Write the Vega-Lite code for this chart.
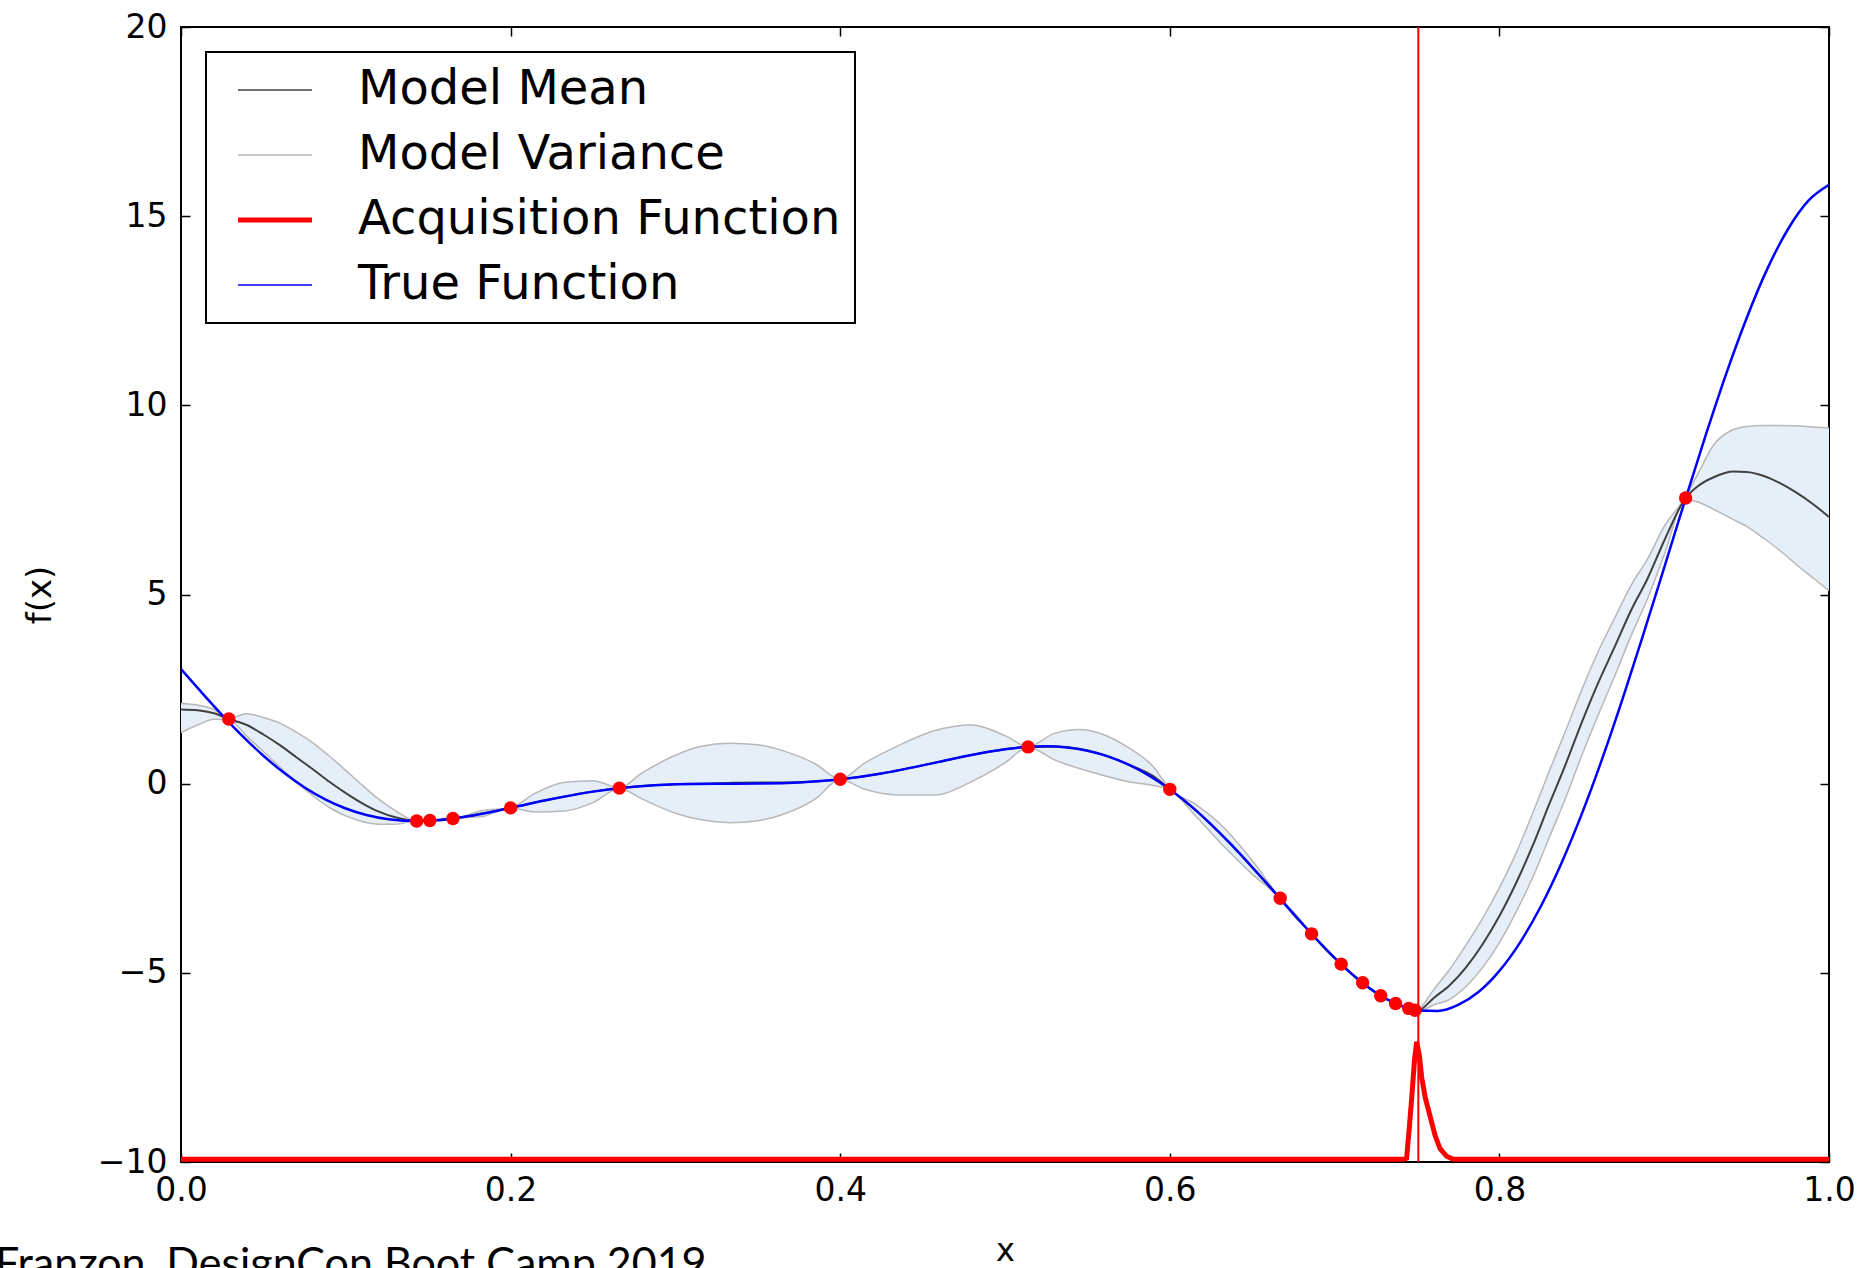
{
  "$schema": "https://vega.github.io/schema/vega-lite/v6.json",
  "width": 1648,
  "height": 1135,
  "autosize": {"type": "none"},
  "padding": {"left": 181, "top": 27, "right": 39, "bottom": 106},
  "background": "white",
  "config": {"view": {"stroke": "black", "strokeWidth": 2}, "font": "DejaVu Sans"},
  "title": {
    "text": "Franzon, DesignCon Boot Camp 2019",
    "orient": "bottom",
    "anchor": "start",
    "frame": "group",
    "font": "Lato",
    "fontSize": 43,
    "fontWeight": "normal",
    "color": "black",
    "baseline": "top",
    "offset": 0,
    "dx": -186,
    "dy": -22
  },
  "datasets": {
    "gp": [
      {"x": 0, "mean": 1.96, "lo": 1.35, "hi": 2.12},
      {"x": 0.01, "mean": 1.94, "lo": 1.55, "hi": 2.08},
      {"x": 0.02, "mean": 1.86, "lo": 1.7, "hi": 1.96},
      {"x": 0.029, "mean": 1.71, "lo": 1.69, "hi": 1.73},
      {"x": 0.04, "mean": 1.55, "lo": 1.25, "hi": 1.85},
      {"x": 0.05, "mean": 1.3, "lo": 0.85, "hi": 1.75},
      {"x": 0.06, "mean": 1.02, "lo": 0.44, "hi": 1.6},
      {"x": 0.07, "mean": 0.7, "lo": 0.04, "hi": 1.36},
      {"x": 0.08, "mean": 0.38, "lo": -0.32, "hi": 1.08},
      {"x": 0.09, "mean": 0.05, "lo": -0.63, "hi": 0.73},
      {"x": 0.1, "mean": -0.25, "lo": -0.85, "hi": 0.35},
      {"x": 0.11, "mean": -0.52, "lo": -1.0, "hi": -0.04},
      {"x": 0.12, "mean": -0.74, "lo": -1.07, "hi": -0.41},
      {"x": 0.13, "mean": -0.89, "lo": -1.07, "hi": -0.71},
      {"x": 0.143, "mean": -0.986, "lo": -0.99, "hi": -0.98},
      {"x": 0.148, "mean": -0.982, "lo": -0.995, "hi": -0.97},
      {"x": 0.153, "mean": -0.971, "lo": -0.975, "hi": -0.967},
      {"x": 0.159, "mean": -0.949, "lo": -0.98, "hi": -0.92},
      {"x": 0.165, "mean": -0.919, "lo": -0.925, "hi": -0.913},
      {"x": 0.183, "mean": -0.791, "lo": -0.87, "hi": -0.71},
      {"x": 0.2, "mean": -0.64, "lo": -0.645, "hi": -0.635},
      {"x": 0.215, "mean": -0.498, "lo": -0.75, "hi": -0.25},
      {"x": 0.233, "mean": -0.338, "lo": -0.72, "hi": 0.04},
      {"x": 0.25, "mean": -0.21, "lo": -0.5, "hi": 0.08},
      {"x": 0.266, "mean": -0.118, "lo": -0.125, "hi": -0.11},
      {"x": 0.28, "mean": -0.061, "lo": -0.41, "hi": 0.29},
      {"x": 0.3, "mean": -0.016, "lo": -0.78, "hi": 0.75},
      {"x": 0.315, "mean": 0.0, "lo": -0.95, "hi": 0.98},
      {"x": 0.333, "mean": 0.02, "lo": -1.03, "hi": 1.07},
      {"x": 0.35, "mean": 0.03, "lo": -0.98, "hi": 1.03},
      {"x": 0.366, "mean": 0.03, "lo": -0.8, "hi": 0.86},
      {"x": 0.385, "mean": 0.06, "lo": -0.4, "hi": 0.52},
      {"x": 0.4, "mean": 0.115, "lo": 0.11, "hi": 0.12},
      {"x": 0.415, "mean": 0.199, "lo": -0.15, "hi": 0.55},
      {"x": 0.435, "mean": 0.349, "lo": -0.3, "hi": 1.0},
      {"x": 0.457, "mean": 0.549, "lo": -0.3, "hi": 1.4},
      {"x": 0.48, "mean": 0.761, "lo": 0.06, "hi": 1.55},
      {"x": 0.5, "mean": 0.909, "lo": 0.55, "hi": 1.27},
      {"x": 0.514, "mean": 0.972, "lo": 0.965, "hi": 0.98},
      {"x": 0.53, "mean": 0.981, "lo": 0.63, "hi": 1.33},
      {"x": 0.545, "mean": 0.92, "lo": 0.4, "hi": 1.43},
      {"x": 0.557, "mean": 0.796, "lo": 0.25, "hi": 1.34},
      {"x": 0.575, "mean": 0.503, "lo": 0.05, "hi": 0.95},
      {"x": 0.59, "mean": 0.2, "lo": -0.05, "hi": 0.45},
      {"x": 0.6, "mean": -0.15, "lo": -0.155, "hi": -0.145},
      {"x": 0.615, "mean": -0.674, "lo": -0.82, "hi": -0.53},
      {"x": 0.633, "mean": -1.419, "lo": -1.67, "hi": -1.17},
      {"x": 0.65, "mean": -2.209, "lo": -2.39, "hi": -2.03},
      {"x": 0.667, "mean": -3.03, "lo": -3.035, "hi": -3.025},
      {"x": 0.676, "mean": -3.487, "lo": -3.53, "hi": -3.44},
      {"x": 0.686, "mean": -3.97, "lo": -3.975, "hi": -3.965},
      {"x": 0.695, "mean": -4.389, "lo": -4.42, "hi": -4.36},
      {"x": 0.704, "mean": -4.77, "lo": -4.775, "hi": -4.765},
      {"x": 0.717, "mean": -5.26, "lo": -5.27, "hi": -5.25},
      {"x": 0.728, "mean": -5.606, "lo": -5.61, "hi": -5.6},
      {"x": 0.737, "mean": -5.81, "lo": -5.815, "hi": -5.805},
      {"x": 0.745, "mean": -5.94, "lo": -5.945, "hi": -5.935},
      {"x": 0.7488, "mean": -5.99, "lo": -5.995, "hi": -5.985},
      {"x": 0.752, "mean": -5.97, "lo": -6.0, "hi": -5.92},
      {"x": 0.76, "mean": -5.67, "lo": -5.85, "hi": -5.45},
      {"x": 0.77, "mean": -5.32, "lo": -5.7, "hi": -4.9},
      {"x": 0.78, "mean": -4.84, "lo": -5.35, "hi": -4.25},
      {"x": 0.79, "mean": -4.23, "lo": -4.85, "hi": -3.55},
      {"x": 0.8, "mean": -3.5, "lo": -4.2, "hi": -2.75},
      {"x": 0.81, "mean": -2.64, "lo": -3.4, "hi": -1.85},
      {"x": 0.82, "mean": -1.66, "lo": -2.5, "hi": -0.8},
      {"x": 0.83, "mean": -0.57, "lo": -1.45, "hi": 0.3},
      {"x": 0.84, "mean": 0.49, "lo": -0.4, "hi": 1.38},
      {"x": 0.85, "mean": 1.62, "lo": 0.75, "hi": 2.48},
      {"x": 0.86, "mean": 2.67, "lo": 1.82, "hi": 3.5},
      {"x": 0.87, "mean": 3.62, "lo": 2.85, "hi": 4.38},
      {"x": 0.88, "mean": 4.59, "lo": 3.92, "hi": 5.25},
      {"x": 0.89, "mean": 5.43, "lo": 4.9, "hi": 5.95},
      {"x": 0.9, "mean": 6.42, "lo": 6.05, "hi": 6.8},
      {"x": 0.913, "mean": 7.55, "lo": 7.52, "hi": 7.58},
      {"x": 0.92, "mean": 7.85, "lo": 7.45, "hi": 8.15},
      {"x": 0.93, "mean": 8.1, "lo": 7.25, "hi": 8.95},
      {"x": 0.942, "mean": 8.25, "lo": 6.98, "hi": 9.36},
      {"x": 0.95, "mean": 8.24, "lo": 6.8, "hi": 9.44},
      {"x": 0.96, "mean": 8.14, "lo": 6.5, "hi": 9.47},
      {"x": 0.97, "mean": 7.95, "lo": 6.17, "hi": 9.47},
      {"x": 0.98, "mean": 7.7, "lo": 5.8, "hi": 9.46},
      {"x": 0.99, "mean": 7.4, "lo": 5.45, "hi": 9.43},
      {"x": 1.0, "mean": 7.05, "lo": 5.1, "hi": 9.4}
    ],
    "truef": [
      {"x": 0, "y": 3.027}, {"x": 0.0125, "y": 2.411}, {"x": 0.025, "y": 1.813}, {"x": 0.0375, "y": 1.251},
      {"x": 0.05, "y": 0.738}, {"x": 0.0625, "y": 0.286}, {"x": 0.075, "y": -0.1}, {"x": 0.0875, "y": -0.414},
      {"x": 0.1, "y": -0.657}, {"x": 0.1125, "y": -0.829}, {"x": 0.125, "y": -0.935}, {"x": 0.1375, "y": -0.982},
      {"x": 0.15, "y": -0.978}, {"x": 0.1625, "y": -0.932}, {"x": 0.175, "y": -0.854}, {"x": 0.1875, "y": -0.753},
      {"x": 0.2, "y": -0.64}, {"x": 0.225, "y": -0.407}, {"x": 0.25, "y": -0.21}, {"x": 0.275, "y": -0.079},
      {"x": 0.3, "y": -0.016}, {"x": 0.325, "y": 0.0}, {"x": 0.35, "y": 0.002}, {"x": 0.375, "y": 0.03},
      {"x": 0.4, "y": 0.115}, {"x": 0.425, "y": 0.27}, {"x": 0.4375, "y": 0.371}, {"x": 0.45, "y": 0.483},
      {"x": 0.4625, "y": 0.6}, {"x": 0.475, "y": 0.717}, {"x": 0.4875, "y": 0.823}, {"x": 0.5, "y": 0.909},
      {"x": 0.5125, "y": 0.967}, {"x": 0.525, "y": 0.986}, {"x": 0.5375, "y": 0.957}, {"x": 0.55, "y": 0.871},
      {"x": 0.5625, "y": 0.722}, {"x": 0.575, "y": 0.503}, {"x": 0.5875, "y": 0.213}, {"x": 0.6, "y": -0.15},
      {"x": 0.6125, "y": -0.58}, {"x": 0.625, "y": -1.074}, {"x": 0.6375, "y": -1.62}, {"x": 0.65, "y": -2.209},
      {"x": 0.6625, "y": -2.82}, {"x": 0.675, "y": -3.439}, {"x": 0.6875, "y": -4.04}, {"x": 0.7, "y": -4.606},
      {"x": 0.7125, "y": -5.11}, {"x": 0.725, "y": -5.522}, {"x": 0.7375, "y": -5.82}, {"x": 0.75, "y": -5.993},
      {"x": 0.7625, "y": -6.006}, {"x": 0.775, "y": -5.845}, {"x": 0.7875, "y": -5.5}, {"x": 0.8, "y": -4.949},
      {"x": 0.8125, "y": -4.2}, {"x": 0.825, "y": -3.254}, {"x": 0.8375, "y": -2.115}, {"x": 0.85, "y": -0.799},
      {"x": 0.8625, "y": 0.673}, {"x": 0.875, "y": 2.272}, {"x": 0.8875, "y": 3.97}, {"x": 0.9, "y": 5.712},
      {"x": 0.9125, "y": 7.47}, {"x": 0.925, "y": 9.187}, {"x": 0.9375, "y": 10.82}, {"x": 0.95, "y": 12.303},
      {"x": 0.9625, "y": 13.6}, {"x": 0.975, "y": 14.648}, {"x": 0.9875, "y": 15.41}, {"x": 1.0, "y": 15.83}
    ],
    "acq": [
      {"x": 0, "y": -9.93}, {"x": 0.742, "y": -9.93}, {"x": 0.7437, "y": -9.9}, {"x": 0.7455, "y": -9.0},
      {"x": 0.7468, "y": -8.3}, {"x": 0.7485, "y": -7.3}, {"x": 0.7498, "y": -6.82}, {"x": 0.7515, "y": -7.2},
      {"x": 0.7528, "y": -7.75}, {"x": 0.755, "y": -8.3}, {"x": 0.758, "y": -8.8}, {"x": 0.761, "y": -9.3},
      {"x": 0.764, "y": -9.65}, {"x": 0.768, "y": -9.85}, {"x": 0.772, "y": -9.93}, {"x": 1.0, "y": -9.93}
    ],
    "obs": [
      {"x": 0.029, "y": 1.71}, {"x": 0.143, "y": -0.986}, {"x": 0.151, "y": -0.975}, {"x": 0.165, "y": -0.919},
      {"x": 0.2, "y": -0.64}, {"x": 0.266, "y": -0.118}, {"x": 0.4, "y": 0.115}, {"x": 0.514, "y": 0.972},
      {"x": 0.6, "y": -0.15}, {"x": 0.667, "y": -3.03}, {"x": 0.686, "y": -3.97}, {"x": 0.704, "y": -4.77},
      {"x": 0.717, "y": -5.26}, {"x": 0.728, "y": -5.606}, {"x": 0.737, "y": -5.81}, {"x": 0.745, "y": -5.94},
      {"x": 0.7488, "y": -5.99}, {"x": 0.913, "y": 7.55}
    ],
    "next": [{"x": 0.7508}]
  },
  "resolve": {"axis": {"x": "independent", "y": "independent"}},
  "layer": [
    {
      "data": {"name": "gp"},
      "mark": {"type": "area", "color": "#e6eef8", "opacity": 1, "interpolate": "monotone", "clip": true},
      "encoding": {
        "x": {"field": "x", "type": "quantitative", "scale": {"domain": [0, 1], "nice": false, "zero": false},
          "axis": {"orient": "bottom", "values": [0, 0.2, 0.4, 0.6, 0.8, 1.0], "format": ".1f", "domain": false, "grid": false,
            "ticks": true, "tickSize": -9, "tickColor": "black", "tickWidth": 1.5, "labelPadding": 21, "labelFontSize": 33,
            "labelFont": "DejaVu Sans", "labelColor": "black", "labelOverlap": false, "labelBound": false, "labelFlush": false,
            "title": "x", "titleFontSize": 32, "titleFont": "DejaVu Sans", "titleFontWeight": "normal", "titleColor": "black", "titlePadding": 28}},
        "y": {"field": "lo", "type": "quantitative", "scale": {"domain": [-10, 20], "nice": false, "zero": false},
          "axis": {"orient": "left", "values": [-10, -5, 0, 5, 10, 15, 20], "domain": false, "grid": false,
            "ticks": true, "tickSize": -9, "tickColor": "black", "tickWidth": 1.5, "labelPadding": 23, "labelFontSize": 33,
            "labelFont": "DejaVu Sans", "labelColor": "black", "labelOverlap": false, "labelBound": false, "labelFlush": false,
            "title": "f(x)", "titleFontSize": 34, "titleFont": "DejaVu Sans", "titleFontWeight": "normal", "titleColor": "black", "titlePadding": 40}},
        "y2": {"field": "hi"}
      }
    },
    {
      "data": {"name": "gp"},
      "mark": {"type": "line", "strokeWidth": 1.5, "interpolate": "monotone", "clip": true},
      "encoding": {
        "x": {"field": "x", "type": "quantitative", "axis": null},
        "y": {"field": "lo", "type": "quantitative", "axis": null},
        "color": {"datum": "Model Variance", "type": "nominal",
          "scale": {"domain": ["Model Mean", "Model Variance", "Acquisition Function", "True Function"], "range": ["#404040", "#b8b8b8", "#ff0000", "#0000ff"]},
          "legend": {"title": null, "orient": "none", "legendX": 25, "legendY": 25, "symbolType": "stroke", "symbolSize": 5476,
            "symbolStrokeWidth": 1.5, "symbolOpacity": 1, "labelFontSize": 48, "labelFont": "DejaVu Sans", "labelColor": "black", "labelLimit": 0,
            "padding": 14, "rowPadding": 17, "symbolOffset": 31, "labelOffset": 59, "strokeColor": "black", "fillColor": "white",
            "values": ["Model Mean", "Model Variance", "Acquisition Function", "True Function"],
            "encode": {"symbols": {"update": {"strokeWidth": {"signal": "datum.value === 'Acquisition Function' ? 5 : 1.5"}}},
              "legend": {"update": {"strokeWidth": {"value": 2}}}}}}
      }
    },
    {
      "data": {"name": "gp"},
      "mark": {"type": "line", "strokeWidth": 1.5, "interpolate": "monotone", "clip": true},
      "encoding": {
        "x": {"field": "x", "type": "quantitative", "axis": null},
        "y": {"field": "hi", "type": "quantitative", "axis": null},
        "color": {"datum": "Model Variance", "type": "nominal"}
      }
    },
    {
      "data": {"name": "gp"},
      "mark": {"type": "line", "strokeWidth": 2, "interpolate": "monotone", "clip": true},
      "encoding": {
        "x": {"field": "x", "type": "quantitative", "axis": null},
        "y": {"field": "mean", "type": "quantitative", "axis": null},
        "color": {"datum": "Model Mean", "type": "nominal"}
      }
    },
    {
      "data": {"name": "acq"},
      "mark": {"type": "line", "strokeWidth": 5, "interpolate": "linear", "clip": true},
      "encoding": {
        "x": {"field": "x", "type": "quantitative", "axis": null},
        "y": {"field": "y", "type": "quantitative", "axis": null},
        "color": {"datum": "Acquisition Function", "type": "nominal"}
      }
    },
    {
      "data": {"name": "next"},
      "mark": {"type": "rule", "color": "#ff0000", "strokeWidth": 2},
      "encoding": {
        "x": {"field": "x", "type": "quantitative",
          "axis": {"orient": "top", "values": [0, 0.2, 0.4, 0.6, 0.8, 1.0], "labels": false, "domain": false, "grid": false,
            "ticks": true, "tickSize": -9, "tickColor": "black", "tickWidth": 1.5, "title": null}}
      }
    },
    {
      "data": {"name": "truef"},
      "mark": {"type": "line", "strokeWidth": 2.5, "interpolate": "monotone", "clip": true},
      "encoding": {
        "x": {"field": "x", "type": "quantitative", "axis": null},
        "y": {"field": "y", "type": "quantitative", "axis": null},
        "color": {"datum": "True Function", "type": "nominal"}
      }
    },
    {
      "data": {"name": "obs"},
      "mark": {"type": "circle", "color": "#ff0000", "opacity": 1, "size": 180},
      "encoding": {
        "x": {"field": "x", "type": "quantitative", "axis": null},
        "y": {"field": "y", "type": "quantitative",
          "axis": {"orient": "right", "values": [-10, -5, 0, 5, 10, 15, 20], "labels": false, "domain": false, "grid": false,
            "ticks": true, "tickSize": -9, "tickColor": "black", "tickWidth": 1.5, "title": null}}
      }
    }
  ]
}
